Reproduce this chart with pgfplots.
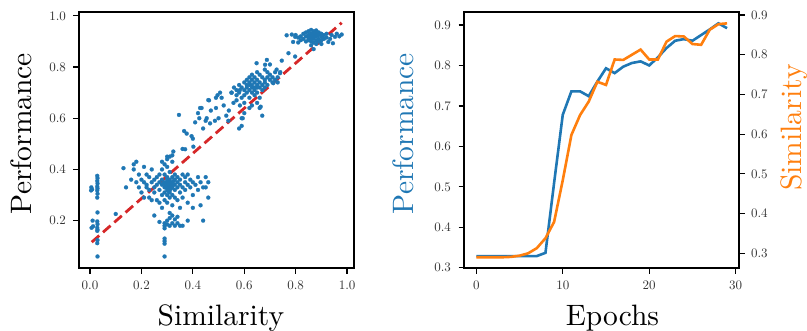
\documentclass[border=0pt]{standalone}
\usepackage{fontspec}
\setmainfont{lmroman10-regular.otf}
\usepackage{pgfplots}
\pgfplotsset{compat=1.18}
\definecolor{mblue}{HTML}{1F77B4}
\definecolor{morange}{HTML}{FF7F0E}
\definecolor{mred}{HTML}{D62728}
\pgfplotstableread{
x y
0.005 0.330
0.008 0.322
0.004 0.318
0.010 0.200
0.006 0.172
0.012 0.178
0.028 0.375
0.029 0.366
0.028 0.355
0.029 0.345
0.028 0.333
0.029 0.326
0.028 0.318
0.029 0.305
0.028 0.290
0.029 0.232
0.028 0.197
0.029 0.186
0.028 0.172
0.029 0.164
0.028 0.160
0.029 0.124
0.028 0.112
0.029 0.060
0.100 0.226
0.13 0.405
0.14 0.33
0.16 0.36
0.17 0.40
0.17 0.42
0.18 0.43
0.18 0.35
0.19 0.38
0.19 0.33
0.20 0.36
0.20 0.31
0.21 0.41
0.21 0.35
0.21 0.29
0.22 0.38
0.22 0.34
0.22 0.33
0.23 0.37
0.23 0.32
0.23 0.29
0.24 0.35
0.24 0.40
0.24 0.28
0.25 0.36
0.25 0.33
0.25 0.31
0.25 0.22
0.26 0.37
0.26 0.34
0.26 0.28
0.27 0.38
0.27 0.35
0.27 0.32
0.27 0.27
0.28 0.43
0.28 0.40
0.28 0.36
0.28 0.34
0.28 0.30
0.28 0.25
0.29 0.42
0.29 0.38
0.29 0.35
0.29 0.33
0.29 0.31
0.29 0.28
0.30 0.44
0.30 0.41
0.30 0.37
0.30 0.36
0.30 0.35
0.30 0.34
0.30 0.33
0.30 0.32
0.30 0.30
0.30 0.27
0.31 0.45
0.31 0.39
0.31 0.36
0.31 0.35
0.31 0.34
0.31 0.33
0.31 0.32
0.31 0.31
0.31 0.29
0.32 0.43
0.32 0.37
0.32 0.35
0.32 0.34
0.32 0.33
0.32 0.30
0.32 0.26
0.33 0.38
0.33 0.36
0.33 0.34
0.33 0.32
0.33 0.29
0.34 0.37
0.34 0.35
0.34 0.33
0.34 0.28
0.35 0.36
0.35 0.34
0.35 0.31
0.35 0.25
0.36 0.38
0.36 0.33
0.36 0.29
0.37 0.37
0.37 0.35
0.37 0.32
0.38 0.38
0.38 0.34
0.38 0.27
0.39 0.36
0.39 0.33
0.40 0.35
0.40 0.25
0.40 0.30
0.41 0.34
0.42 0.32
0.42 0.37
0.43 0.35
0.43 0.26
0.44 0.33
0.44 0.20
0.45 0.37
0.45 0.33
0.46 0.35
0.46 0.29
0.38 0.20
0.36 0.18
0.295 0.335
0.305 0.345
0.315 0.325
0.325 0.355
0.285 0.345
0.305 0.315
0.29 0.19
0.29 0.18
0.29 0.17
0.30 0.20
0.30 0.185
0.31 0.21
0.31 0.18
0.32 0.22
0.32 0.19
0.33 0.205
0.33 0.18
0.34 0.215
0.34 0.19
0.35 0.18
0.29 0.13
0.29 0.12
0.29 0.11
0.29 0.06
0.27 0.195
0.31 0.23
0.346 0.613
0.409 0.584
0.42 0.62
0.434 0.64
0.425 0.60
0.45 0.59
0.463 0.67
0.496 0.69
0.506 0.70
0.512 0.68
0.49 0.64
0.50 0.60
0.486 0.59
0.467 0.58
0.366 0.55
0.376 0.54
0.395 0.53
0.40 0.52
0.36 0.48
0.324 0.47
0.32 0.455
0.30 0.45
0.402 0.489
0.37 0.479
0.551 0.70
0.558 0.66
0.57 0.67
0.53 0.61
0.538 0.59
0.583 0.65
0.594 0.60
0.583 0.71
0.46 0.671
0.49 0.68
0.428 0.64
0.454 0.60
0.52 0.65
0.54 0.63
0.47 0.63
0.44 0.56
0.55 0.70
0.56 0.72
0.57 0.69
0.57 0.71
0.58 0.73
0.58 0.70
0.59 0.68
0.59 0.72
0.60 0.74
0.60 0.71
0.60 0.69
0.60 0.66
0.61 0.75
0.61 0.73
0.61 0.72
0.61 0.70
0.62 0.76
0.62 0.74
0.62 0.73
0.62 0.71
0.62 0.68
0.63 0.77
0.63 0.75
0.63 0.73
0.63 0.72
0.63 0.70
0.63 0.65
0.64 0.76
0.64 0.74
0.64 0.72
0.64 0.71
0.64 0.69
0.65 0.78
0.65 0.75
0.65 0.73
0.65 0.72
0.65 0.70
0.66 0.77
0.66 0.74
0.66 0.72
0.66 0.68
0.66 0.64
0.67 0.76
0.67 0.73
0.67 0.71
0.67 0.61
0.68 0.79
0.68 0.75
0.68 0.74
0.68 0.72
0.69 0.78
0.69 0.76
0.69 0.73
0.70 0.75
0.70 0.77
0.71 0.74
0.71 0.76
0.72 0.75
0.72 0.78
0.73 0.76
0.73 0.74
0.74 0.78
0.648 0.815
0.688 0.828
0.70 0.81
0.681 0.809
0.726 0.79
0.739 0.776
0.713 0.737
0.60 0.62
0.59 0.60
0.58 0.56
0.59 0.57
0.664 0.645
0.65 0.66
0.62 0.64
0.746 0.825
0.772 0.854
0.798 0.841
0.765 0.924
0.785 0.927
0.798 0.918
0.79 0.898
0.81 0.896
0.80 0.925
0.81 0.915
0.82 0.92
0.82 0.905
0.83 0.93
0.83 0.91
0.84 0.935
0.84 0.92
0.84 0.90
0.85 0.94
0.85 0.925
0.85 0.915
0.85 0.905
0.86 0.945
0.86 0.93
0.86 0.92
0.86 0.91
0.86 0.90
0.86 0.885
0.87 0.94
0.87 0.93
0.87 0.92
0.87 0.91
0.87 0.895
0.87 0.87
0.88 0.943
0.88 0.93
0.88 0.92
0.88 0.905
0.88 0.89
0.89 0.935
0.89 0.925
0.89 0.91
0.89 0.90
0.90 0.93
0.90 0.92
0.90 0.905
0.91 0.925
0.91 0.91
0.92 0.93
0.92 0.915
0.927 0.898
0.934 0.91
0.94 0.925
0.953 0.918
0.96 0.93
0.979 0.927
0.97 0.92
0.945 0.893
0.90 0.89
}\scatterdata
\pgfplotstableread{
e perf sim
0 0.329 0.290
1 0.329 0.290
2 0.329 0.290
3 0.329 0.290
4 0.329 0.291
5 0.329 0.294
6 0.329 0.300
7 0.329 0.313
8 0.337 0.338
9 0.510 0.379
10 0.678 0.484
11 0.736 0.598
12 0.736 0.648
13 0.724 0.682
14 0.760 0.732
15 0.793 0.724
16 0.781 0.788
17 0.797 0.787
18 0.806 0.800
19 0.810 0.813
20 0.800 0.788
21 0.820 0.788
22 0.843 0.833
23 0.861 0.847
24 0.865 0.846
25 0.861 0.827
26 0.875 0.825
27 0.889 0.863
28 0.904 0.877
29 0.892 0.879
}\epochdata
\begin{document}
\begin{tikzpicture}
\path[use as bounding box] (0,0) rectangle (807pt,330pt);
\pgfplotsset{
  every axis/.append style={
    scale only axis, width=275pt, height=256pt,
    axis line style={line width=1.6pt},
    major tick style={line width=1.2pt, black},
    tick align=outside,
    major tick length=5.5pt,
    /pgf/number format/assume math mode=true,
    tick label style={font=\fontsize{13}{15}\selectfont, text=black!80},
    label style={font=\fontsize{29.5}{34}\selectfont},
  }
}
\begin{axis}[at={(79pt,62pt)}, anchor=south west,
  xmin=-0.043, xmax=1.027, ymin=0.015, ymax=1.015,
  xtick={0,0.2,0.4,0.6,0.8,1.0}, ytick={0.2,0.4,0.6,0.8,1.0},
  tick pos=left,
  xticklabel={\pgfmathprintnumber[fixed,fixed zerofill,precision=1]{\tick}},
  yticklabel={\pgfmathprintnumber[fixed,fixed zerofill,precision=1]{\tick}},
  xticklabel style={yshift=-4pt},
  yticklabel style={xshift=-4pt},
  xlabel={Similarity}, ylabel={Performance},
  xlabel style={at={(axis description cs:0.516,-0.2227)}, anchor=base},
  ylabel style={at={(axis description cs:-0.1745,0.525)}, anchor=base},
]
\addplot[only marks, mark=*, mark size=2pt, mblue, mark options={draw=mblue, fill=mblue, line width=0.2pt}] table[x=x, y=y] {\scatterdata};
\addplot[mred, line width=2.8pt, dash pattern=on 10pt off 5pt] coordinates {(0.0066,0.116) (0.979,0.973)};
\end{axis}
\begin{axis}[at={(464pt,62pt)}, anchor=south west,
  xmin=-1.42, xmax=30.38, ymin=0.2995, ymax=0.932,
  xtick={0,10,20,30}, ytick={0.3,0.4,0.5,0.6,0.7,0.8,0.9},
  tick pos=left,
  yticklabel={\pgfmathprintnumber[fixed,fixed zerofill,precision=1]{\tick}},
  xticklabel style={yshift=-4pt},
  yticklabel style={xshift=-4pt},
  xlabel={Epochs}, ylabel={Performance},
  xlabel style={at={(axis description cs:0.54,-0.2227)}, anchor=base},
  ylabel style={at={(axis description cs:-0.183,0.525)}, anchor=base, text=mblue},
]
\addplot[mblue, line width=2.6pt] table[x=e, y=perf] {\epochdata};
\end{axis}
\begin{axis}[at={(464pt,62pt)}, anchor=south west,
  xmin=-1.42, xmax=30.38, ymin=0.263, ymax=0.9076,
  xtick=\empty, ytick={0.3,0.4,0.5,0.6,0.7,0.8,0.9},
  ytick pos=right, yticklabel pos=right,
  yticklabel={\pgfmathprintnumber[fixed,fixed zerofill,precision=1]{\tick}},
  yticklabel style={xshift=3pt},
  ylabel={Similarity},
  ylabel style={at={(axis description cs:1.229,0.549)}, anchor=base, text=morange},
]
\addplot[morange, line width=2.6pt] table[x=e, y=sim] {\epochdata};
\end{axis}
\end{tikzpicture}
\end{document}
